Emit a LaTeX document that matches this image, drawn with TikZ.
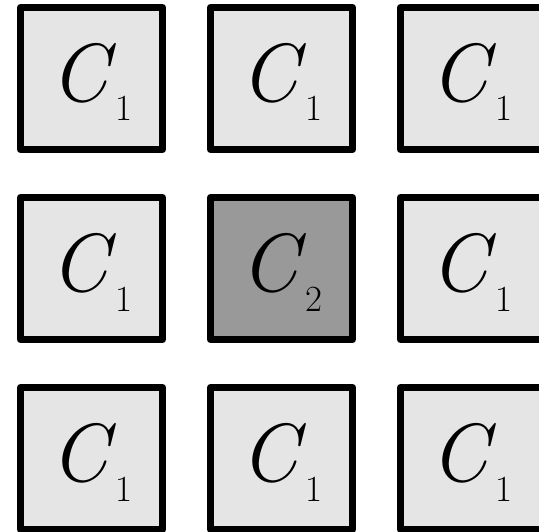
\documentclass[tikz,border=0pt]{standalone}
\usetikzlibrary{positioning}

\newcommand{\cname}[1]{\textit{C}\raisebox{-0.39cm}{\fontsize{21pt}{21pt}\selectfont #1}}

\begin{document}
\begin{tikzpicture}[node distance=0.82cm,
			cell/.style={draw, line width=0.14cm, line join=round, minimum size=2.84cm, inner sep=0pt,
				text height=1.2cm, text depth=0.28cm, font=\fontsize{47pt}{47pt}\selectfont},
			lite/.style={cell, fill=gray!20},
			dark/.style={cell, fill=gray!80}]
			\useasboundingbox (0,0) rectangle (10.78,10.62);
			\node[lite] (tl) at (1.83,9.05) {\cname{1}};
			\node[lite, right=of tl] (tm) {\cname{1}};
			\node[lite, right=of tm] (tr) {\cname{1}};
			\node[lite, below=of tl] (ml) {\cname{1}};
			\node[dark, right=of ml] (mm) {\cname{2}};
			\node[lite, right=of mm] (mr) {\cname{1}};
			\node[lite, below=of ml] (bl) {\cname{1}};
			\node[lite, right=of bl] (bm) {\cname{1}};
			\node[lite, right=of bm] (br) {\cname{1}};
		\end{tikzpicture}
\end{document}
